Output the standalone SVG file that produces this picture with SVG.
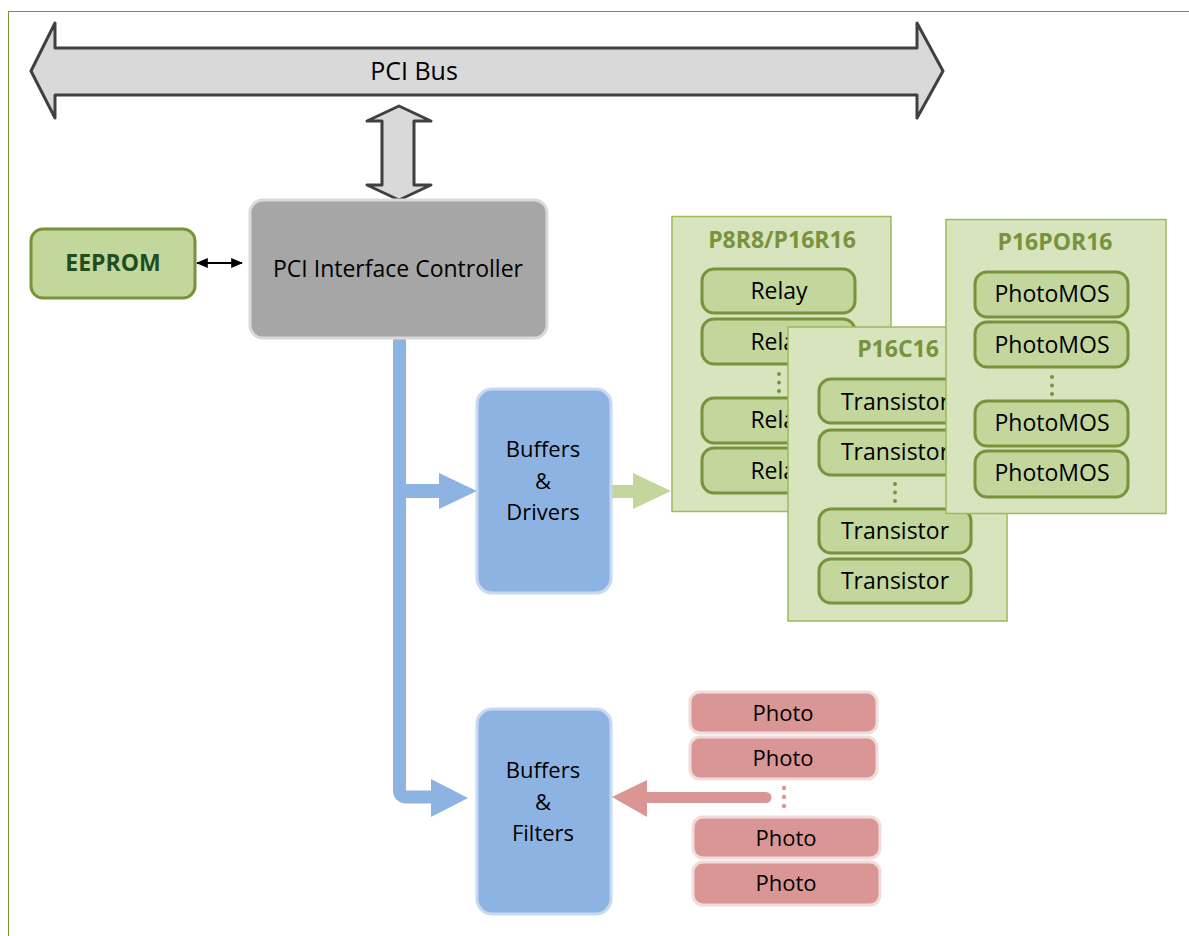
<svg xmlns="http://www.w3.org/2000/svg" width="1189" height="936" viewBox="0 0 1189 936">
<style>
text{font-family:"Open Sans","Liberation Sans",sans-serif;text-anchor:middle;fill:#000}
.t22{font-size:22px}
.t23{font-size:23px}
.title{font-size:23px;font-weight:bold;fill:#77933c}
.panel{fill:#d7e4bd;stroke:#9bbb59;stroke-width:1.5}
.gbox{fill:#c3d69b;stroke:#77933c;stroke-width:3}
.rbox{fill:#d99694;stroke:#f2dcdb;stroke-width:3}
.bbox{fill:#8db3e2;stroke:#c6d9f1;stroke-width:3}
.gdot{fill:#77933c}
.rdot{fill:#d99694}
</style>
<defs>
<marker id="blk" viewBox="0 0 10 10" refX="9" refY="5" markerWidth="6" markerHeight="5" orient="auto-start-reverse" preserveAspectRatio="none"><path d="M0,0L10,5L0,10z" fill="#000"/></marker>
</defs>
<rect x="8.5" y="11.5" width="1200" height="1000" fill="none" stroke="#77933c" stroke-width="1"/>

<g id="pci-bus">
<polygon points="31,71 55,23 55,48 917,48 917,23 943,71 917,118 917,95 55,95 55,118" fill="#d9d9d9" stroke="#404040" stroke-width="3" stroke-linejoin="round"/>
<text x="414" y="80" style="font-size:25px">PCI Bus</text>
</g>

<g id="connectors">
<polygon points="399,106 431,121 414,121 414,185 431,185 399,200 367,185 382,185 382,121 367,121" fill="#d9d9d9" stroke="#404040" stroke-width="3" stroke-linejoin="round"/>
<line x1="197" y1="263" x2="242" y2="263" stroke="#000" stroke-width="2" marker-start="url(#blk)" marker-end="url(#blk)"/>
<path d="M399.5,340 V791 a6,6 0 0 0 6,6 H433" fill="none" stroke="#8db3e2" stroke-width="13" stroke-linecap="round"/>
<rect x="399" y="484" width="42" height="14" fill="#8db3e2"/>
<polygon points="439,473 477,491 439,509" fill="#8db3e2"/>
<polygon points="431,779 468,798 431,817" fill="#8db3e2"/>
<rect x="612" y="485" width="23" height="13" fill="#c3d69b"/>
<polygon points="633,473 671,491 633,509" fill="#c3d69b"/>
<path d="M645,797.5 H766" stroke="#d99694" stroke-width="11" stroke-linecap="round"/>
<polygon points="612,797 647,780 647,817" fill="#d99694"/>
</g>

<g id="eeprom">
<rect x="31" y="229" width="164" height="69" rx="12" class="gbox"/>
<text x="113" y="271" style="font-size:23px;font-weight:bold;fill:#1f4e23">EEPROM</text>
</g>

<g id="pci-controller">
<rect x="250" y="200" width="297" height="138" rx="13" fill="#a6a6a6" stroke="#d9d9d9" stroke-width="3"/>
<text x="398" y="277" class="t23">PCI Interface Controller</text>
</g>

<g id="buffers-drivers">
<rect x="477" y="389" width="134" height="204" rx="15" class="bbox"/>
<text x="543" y="457" class="t22">Buffers</text>
<text x="543" y="489" class="t22">&amp;</text>
<text x="543" y="520" class="t22">Drivers</text>
</g>

<g id="buffers-filters">
<rect x="477" y="709" width="134" height="205" rx="15" class="bbox"/>
<text x="543" y="778" class="t22">Buffers</text>
<text x="543" y="810" class="t22">&amp;</text>
<text x="543" y="841" class="t22">Filters</text>
</g>

<g id="photo-inputs">
<rect x="690" y="692" width="187" height="41" rx="10" class="rbox"/>
<text x="783" y="721" class="t22">Photo</text>
<rect x="690" y="737" width="187" height="42" rx="10" class="rbox"/>
<text x="783" y="766" class="t22">Photo</text>
<circle cx="784" cy="788" r="2.2" class="rdot"/>
<circle cx="784" cy="797" r="2.2" class="rdot"/>
<circle cx="784" cy="806" r="2.2" class="rdot"/>
<rect x="693" y="817" width="187" height="41" rx="10" class="rbox"/>
<text x="786" y="846" class="t22">Photo</text>
<rect x="693" y="862" width="187" height="43" rx="10" class="rbox"/>
<text x="786" y="891" class="t22">Photo</text>
</g>

<g id="p8r8">
<rect x="672" y="216.5" width="219" height="295" class="panel"/>
<text x="782" y="248" class="title">P8R8/P16R16</text>
<rect x="702" y="269" width="153" height="44" rx="12" class="gbox"/>
<text x="779" y="299" class="t23">Relay</text>
<rect x="702" y="319" width="153" height="45" rx="12" class="gbox"/>
<text x="779" y="350" class="t23">Relay</text>
<circle cx="779" cy="374" r="2" class="gdot"/>
<circle cx="779" cy="382.5" r="2" class="gdot"/>
<circle cx="779" cy="391" r="2" class="gdot"/>
<rect x="702" y="398" width="153" height="45" rx="12" class="gbox"/>
<text x="779" y="428" class="t23">Relay</text>
<rect x="702" y="448" width="153" height="45" rx="12" class="gbox"/>
<text x="779" y="479" class="t23">Relay</text>
</g>

<g id="p16c16">
<rect x="788" y="327" width="219" height="294" class="panel"/>
<text x="898" y="357" class="title">P16C16</text>
<rect x="819" y="379" width="152" height="44" rx="12" class="gbox"/>
<text x="895" y="410" class="t23">Transistor</text>
<rect x="819" y="430" width="152" height="45" rx="12" class="gbox"/>
<text x="895" y="460" class="t23">Transistor</text>
<circle cx="895" cy="484" r="2" class="gdot"/>
<circle cx="895" cy="492.5" r="2" class="gdot"/>
<circle cx="895" cy="501" r="2" class="gdot"/>
<rect x="819" y="509" width="152" height="44" rx="12" class="gbox"/>
<text x="895" y="539" class="t23">Transistor</text>
<rect x="819" y="559" width="152" height="44" rx="12" class="gbox"/>
<text x="895" y="589" class="t23">Transistor</text>
</g>

<g id="p16por16">
<rect x="946" y="219.5" width="220" height="294" class="panel"/>
<text x="1055" y="250" class="title">P16POR16</text>
<rect x="975" y="272" width="153" height="45" rx="12" class="gbox"/>
<text x="1052" y="302" class="t23">PhotoMOS</text>
<rect x="975" y="322" width="153" height="45" rx="12" class="gbox"/>
<text x="1052" y="353" class="t23">PhotoMOS</text>
<circle cx="1052" cy="377" r="2" class="gdot"/>
<circle cx="1052" cy="385.5" r="2" class="gdot"/>
<circle cx="1052" cy="394" r="2" class="gdot"/>
<rect x="975" y="401" width="153" height="45" rx="12" class="gbox"/>
<text x="1052" y="431" class="t23">PhotoMOS</text>
<rect x="975" y="451" width="153" height="46" rx="12" class="gbox"/>
<text x="1052" y="481" class="t23">PhotoMOS</text>
</g>
</svg>
